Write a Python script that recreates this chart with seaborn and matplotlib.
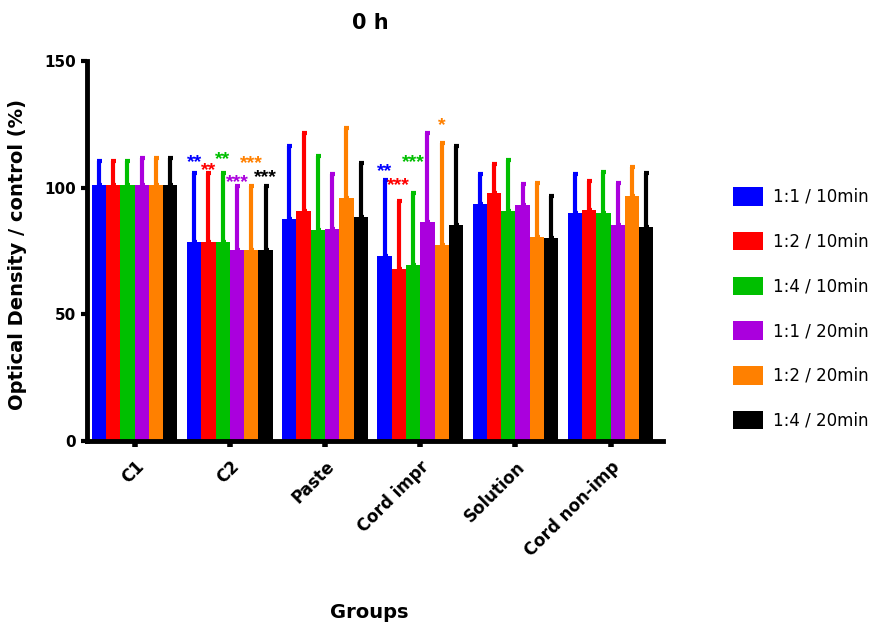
import numpy as np
import pandas as pd
import matplotlib
matplotlib.use("Agg")
import matplotlib.pyplot as plt
from matplotlib.patches import Patch
import seaborn as sns

# ---- data -------------------------------------------------------------
groups = ["C1", "C2", "Paste", "Cord impr", "Solution", "Cord non-imp"]
conditions = ["1:1 / 10min", "1:2 / 10min", "1:4 / 10min",
              "1:1 / 20min", "1:2 / 20min", "1:4 / 20min"]
colors = ["#0000FF", "#FF0000", "#00BF00", "#AA00DD", "#FF8000", "#000000"]

# mean optical density (% of control) per group, one list per condition
mean_11_10 = [101.1, 78.4, 87.6, 73.2, 93.7, 89.9]
mean_12_10 = [101.1, 78.4, 90.8, 68.0, 98.0, 91.0]
mean_14_10 = [101.1, 78.4, 83.3, 69.5, 90.8, 89.9]
mean_11_20 = [101.1, 75.4, 83.5, 86.5, 93.2, 85.4]
mean_12_20 = [101.1, 75.4, 96.1, 77.4, 80.7, 96.6]
mean_14_20 = [101.1, 75.4, 88.3, 85.2, 80.0, 84.6]

# standard deviation (upper whisker only)
sd_11_10 = [9.4, 27.3, 28.7, 29.7, 11.7, 15.5]
sd_12_10 = [9.4, 27.3, 30.8, 26.7, 11.4, 11.6]
sd_14_10 = [9.4, 27.3, 29.1, 28.4, 20.1, 16.3]
sd_11_20 = [10.7, 25.3, 21.9, 35.1, 8.3, 16.3]
sd_12_20 = [10.7, 25.3, 27.5, 40.4, 21.2, 11.5]
sd_14_20 = [10.7, 25.3, 21.6, 31.1, 16.6, 21.1]

# significance marks: (group, condition index, text, height)
sig_marks = [
    ("C2", 0, "**", 111.3), ("C2", 1, "**", 107.9), ("C2", 2, "**", 112.4),
    ("C2", 3, "***", 103.4), ("C2", 4, "***", 110.6), ("C2", 5, "***", 105.4),
    ("Cord impr", 0, "**", 107.6), ("Cord impr", 1, "***", 102.2),
    ("Cord impr", 2, "***", 111.3), ("Cord impr", 4, "*", 125.9),
]

means = [mean_11_10, mean_12_10, mean_14_10, mean_11_20, mean_12_20, mean_14_20]
sds = [sd_11_10, sd_12_10, sd_14_10, sd_11_20, sd_12_20, sd_14_20]

df = pd.DataFrame({
    "Group": np.tile(groups, len(conditions)),
    "Condition": np.repeat(conditions, len(groups)),
    "Value": np.concatenate(means),
})

# ---- style ------------------------------------------------------------
sns.set_style("ticks")
plt.rcParams["font.family"] = ["DejaVu Sans"]
plt.rcParams.update({"text.color": "black", "axes.labelcolor": "black",
                     "xtick.color": "black", "ytick.color": "black"})

fig = plt.figure(figsize=(8.86, 6.23), dpi=100)
ax = fig.add_axes([87 / 886, 1 - 441 / 623, 576 / 886, 380 / 623])

sns.barplot(data=df, x="Group", y="Value", hue="Condition",
            order=groups, hue_order=conditions, palette=colors,
            width=0.9, gap=0, saturation=1, errorbar=None,
            linewidth=0, legend=False, ax=ax)

bar_sets = list(ax.containers)
centers = {}
for ci, cont in enumerate(bar_sets):
    xs = np.array([p.get_x() + p.get_width() / 2 for p in cont])
    centers[ci] = xs
    m = np.array(means[ci])
    s = np.array(sds[ci])
    ax.errorbar(xs, m, yerr=[np.zeros_like(s), s], fmt="none",
                ecolor=colors[ci], elinewidth=3, capsize=1.8, capthick=3,
                zorder=1)

for grp, ci, txt, yv in sig_marks:
    x = centers[ci][groups.index(grp)]
    ax.annotate(txt, (x, yv), xytext=(0, -5.5), textcoords="offset points",
                ha="center", va="baseline", color=colors[ci],
                fontsize=14, fontweight="bold", family="Liberation Sans")

ax.set_xlim(-0.5, 5.55)
ax.set_ylim(0, 150)
ax.set_yticks([0, 50, 100, 150])
for side in ("top", "right"):
    ax.spines[side].set_visible(False)
for side in ("left", "bottom"):
    ax.spines[side].set_linewidth(3.5)
    ax.spines[side].set_color("black")

ax.tick_params(axis="y", length=4, width=3, pad=4, labelsize=11)
ax.tick_params(axis="x", length=4, width=4, pad=8, labelsize=12)
for lab in ax.get_yticklabels():
    lab.set_fontweight("bold")
plt.setp(ax.get_xticklabels(), rotation=45, ha="right",
         rotation_mode="anchor", fontweight="bold")

ax.set_ylabel("Optical Density / control (%)", fontsize=14, fontweight="bold")
ax.yaxis.set_label_coords(-0.104, 0.49)
ax.set_xlabel("Groups", fontsize=14, fontweight="bold")
ax.xaxis.set_label_coords(0.49, -0.425)

fig.text(370 / 886, 1 - 23 / 623, "0 h", ha="center", va="center",
         fontsize=15, fontweight="bold")

handles = [Patch(facecolor=c, edgecolor="none") for c in colors]
fig.legend(handles, conditions, loc="upper left",
           bbox_to_anchor=(733 / 886, 1 - 187 / 623), frameon=False,
           fontsize=12, handlelength=1.8, handleheight=1.35,
           labelspacing=1.55, handletextpad=0.6, borderpad=0,
           borderaxespad=0)

fig.savefig("out.png", dpi=100, facecolor="white")
